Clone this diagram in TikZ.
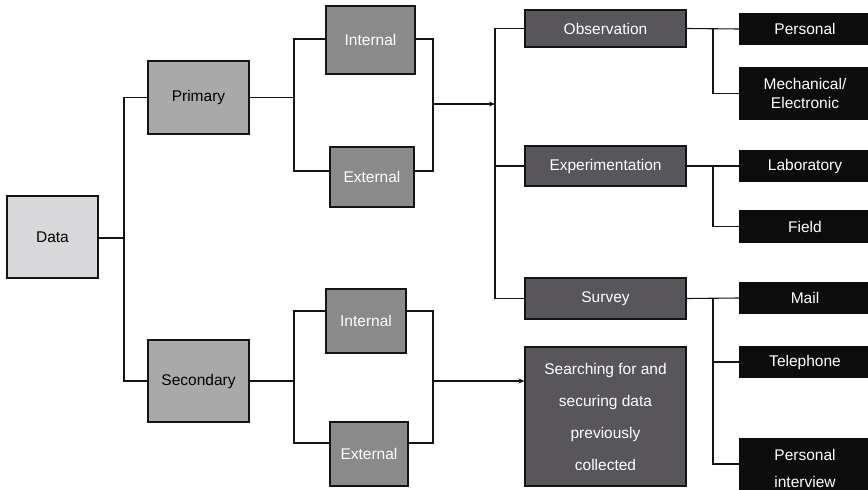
\documentclass[tikz,border=0pt]{standalone}
\usepackage{fontspec}
\setmainfont{Liberation Sans}
\usetikzlibrary{arrows.meta}
\definecolor{lvA}{HTML}{D8D8DA}
\definecolor{lvB}{HTML}{A9A9A9}
\definecolor{lvC}{HTML}{8A8A8A}
\definecolor{lvD}{HTML}{58565A}
\definecolor{lvE}{HTML}{0C0C0C}
\definecolor{edge}{HTML}{141414}
\begin{document}
\begin{tikzpicture}[x=1pt,y=-1pt,
  box/.style={draw=edge,line width=1.1pt,rectangle,inner sep=0pt,align=center,
    font=\fontsize{15.5}{19}\selectfont},
  lvla/.style={box,fill=lvA,text=black},
  lvlb/.style={box,fill=lvB,text=black},
  lvlc/.style={box,fill=lvC,text=white},
  lvld/.style={box,fill=lvD,text=white},
  lvle/.style={box,draw=lvE,fill=lvE,text=white},
  link/.style={draw=edge,line width=1.1pt},
  arr/.style={link,-{Stealth[length=6pt,width=5pt]}}]
\useasboundingbox (0,0) rectangle (868,490);
\clip (0,0) rectangle (868,490);

% first and second levels
\node[lvla,minimum width=91,minimum height=82] (data) at (52.5,237) {Data};
\node[lvlb,minimum width=101,minimum height=73] (prim) at (198.5,97.5) {Primary};
\node[lvlb,minimum width=101,minimum height=82] (sec) at (198.5,381) {Secondary};

% internal / external sources
\node[lvlc,minimum width=89,minimum height=68] (pint) at (370.5,40) {Internal};
\node[lvlc,minimum width=84,minimum height=60] (pext) at (372,177) {External};
\node[lvlc,minimum width=80,minimum height=64] (sint) at (366,321) {Internal};
\node[lvlc,minimum width=78,minimum height=64] (sext) at (369,454) {External};

% methods
\node[lvld,minimum width=161,minimum height=37] (obs) at (605.5,28.5) {Observation};
\node[lvld,minimum width=161,minimum height=40] (exp) at (605.5,166) {Experimentation};
\node[lvld,minimum width=161,minimum height=41] (sur) at (605.5,298.5) {Survey};
\node[lvld,minimum width=161,minimum height=139,font=\fontsize{15.5}{32}\selectfont]
  (search) at (605.5,416.5) {Searching for and\\securing data\\previously\\collected};

% techniques
\node[lvle,minimum width=130,minimum height=30] (pers) at (805,29) {Personal};
\node[lvle,minimum width=130,minimum height=51] (mech) at (805,93.5) {Mechanical/\\Electronic};
\node[lvle,minimum width=130,minimum height=30] (lab) at (805,166) {Laboratory};
\node[lvle,minimum width=130,minimum height=31] (field) at (805,226.5) {Field};
\node[lvle,minimum width=130,minimum height=30] (mail) at (805,298) {Mail};
\node[lvle,minimum width=130,minimum height=30] (tel) at (805,362) {Telephone};
\node[lvle,minimum width=130,minimum height=59,font=\fontsize{15.5}{27}\selectfont]
  (pinv) at (805,468.5) {Personal\\interview};

% junction points
\coordinate (dj) at (124,238);
\coordinate (pj) at (294,97.5);
\coordinate (pr) at (433,104);
\coordinate (bj) at (495,104);
\coordinate (sj) at (294,381);
\coordinate (sr) at (433,381);
\coordinate (oj) at (713,29);
\coordinate (ej) at (713,166);
\coordinate (uj) at (713,298);

% data split
\draw[link] (data.east |- dj) -- (dj);
\draw[link] (prim.west) -| (dj) |- (sec.west);

% primary sources
\draw[link] (prim.east) -- (pj);
\draw[link] ([yshift=1pt]pint.west) -| (pj) |- ([yshift=6pt]pext.west);
\draw[link] ([yshift=1pt]pint.east) -| (pr) |- ([yshift=6pt]pext.east);
\draw[arr] (pr) -- (bj);
\draw[link] (obs.west) -| (bj) |- (sur.west);
\draw[link] (exp.west) -- (exp.west -| bj);

% secondary sources
\draw[link] (sec.east) -- (sj);
\draw[link] ([yshift=10pt]sint.west) -| (sj) |- ([yshift=11pt]sext.west);
\draw[link] ([yshift=10pt]sint.east) -| (sr) |- ([yshift=11pt]sext.east);
\draw[arr] (sr) -- (search.west |- sr);

% techniques per method
\draw[link] (obs.east) -- (pers.west);
\draw[link] (oj) |- (mech.west);
\draw[link] (exp.east) -- (lab.west);
\draw[link] (ej) |- (field.west);
\draw[link] (sur.east) -- (mail.west);
\draw[link] (uj) |- (tel.west);
\draw[link] (uj) |- ([yshift=4.5pt]pinv.west);
\end{tikzpicture}
\end{document}
